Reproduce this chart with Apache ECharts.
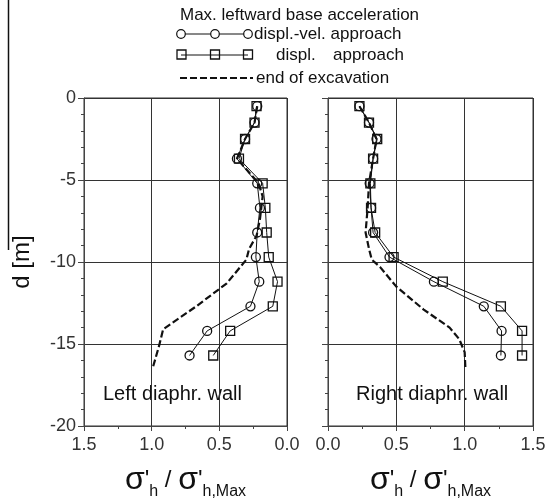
<!DOCTYPE html>
<html>
<head>
<meta charset="utf-8">
<script src="https://cdn.jsdelivr.net/npm/echarts@6/dist/echarts.min.js"></script>
<style>
  html, body { margin: 0; padding: 0; background: #fff; }
  #chart { width: 549px; height: 500px; }
</style>
</head>
<body>
<div id="chart"></div>
<script>
// depths of the computed points [m]
const depths = [-0.5, -1.5, -2.5, -3.7, -5.2, -6.7, -8.2, -9.7, -11.2, -12.7, -14.2, -15.7];

// left diaphragm wall
const leftDispVel = [0.22, 0.24, 0.31, 0.37, 0.22, 0.20, 0.22, 0.23, 0.205, 0.27, 0.59, 0.72];
const leftDisp    = [0.225, 0.24, 0.31, 0.355, 0.18, 0.16, 0.15, 0.135, 0.07, 0.105, 0.42, 0.545];
const leftExcDepth = [-0.5, -1.5, -2.5, -3.7, -5.2, -6.0, -7.4, -8.4, -9.2, -9.85, -11.3, -12.7, -14.1, -15.1, -16.4];
const leftExc      = [0.22, 0.24, 0.31, 0.37, 0.21, 0.18, 0.20, 0.225, 0.28, 0.30, 0.445, 0.67, 0.915, 0.945, 0.99];

// right diaphragm wall
const rightDispVel = [0.23, 0.30, 0.355, 0.33, 0.305, 0.315, 0.33, 0.45, 0.775, 1.14, 1.27, 1.265];
const rightDisp    = [0.23, 0.30, 0.36, 0.33, 0.31, 0.315, 0.345, 0.48, 0.84, 1.265, 1.42, 1.42];
const rightExcDepth = [-0.5, -1.5, -2.5, -3.7, -5.2, -6.7, -8.2, -9.2, -9.85, -10.3, -10.9, -11.5, -12.9, -14.0, -14.7, -15.5, -16.4];
const rightExc      = [0.23, 0.30, 0.355, 0.33, 0.30, 0.29, 0.275, 0.30, 0.32, 0.38, 0.44, 0.50, 0.70, 0.89, 0.96, 1.0, 1.005];

const xTicks = [0, 0.5, 1.0, 1.5];

const FONT = 'Liberation Sans, Arial, sans-serif';
const AX = '#444';

const pairs = (xs, ys) => xs.map((v, i) => [v, ys[i]]);

const chart = echarts.init(document.getElementById('chart'));

function xAxisFor(idx, inverse) {
    return {
        gridIndex: idx,
        type: 'value',
        min: xTicks[0],
        max: xTicks[xTicks.length - 1],
        interval: 0.5,
        inverse: inverse,
        axisLine: { show: true, onZero: false, lineStyle: { color: AX, width: 1 } },
        axisTick: { show: true, length: 5, lineStyle: { color: AX } },
        minorTick: { show: true, splitNumber: 2, length: 3, lineStyle: { color: AX } },
        splitLine: { show: true, lineStyle: { color: '#333', width: 1 } },
        axisLabel: {
            color: '#333', fontSize: 18, fontFamily: FONT, margin: 10,
            formatter: v => v.toFixed(1)
        },
        name: '{s|σ}{p|\'}{sub|h}{p| / }{s|σ}{p|\'}{sub|h,Max}',
        nameLocation: 'middle',
        nameGap: 38,
        nameTextStyle: {
            rich: {
                s: { fontSize: 32, fontFamily: FONT, color: '#111', verticalAlign: 'bottom', padding: [0, 0, 4, 0] },
                p: { fontSize: 24, fontFamily: FONT, color: '#111', verticalAlign: 'bottom', padding: [0, 0, 8, 0] },
                sub: { fontSize: 16, fontFamily: FONT, color: '#111', verticalAlign: 'bottom', padding: [0, 0, 0, 0] }
            }
        }
    };
}

function yAxisFor(idx, showLabels) {
    return {
        gridIndex: idx,
        type: 'value',
        min: -20,
        max: 0,
        interval: 5,
        axisLine: { show: true, onZero: false, lineStyle: { color: AX, width: 1 } },
        axisTick: { show: true, length: 6, lineStyle: { color: AX } },
        minorTick: { show: true, splitNumber: 5, length: 3, lineStyle: { color: AX } },
        splitLine: { show: true, lineStyle: { color: '#333', width: 1 } },
        axisLabel: { show: showLabels, color: '#333', fontSize: 18, fontFamily: FONT, margin: 8 },
        name: showLabels ? 'd [m]' : '',
        nameLocation: 'middle',
        nameRotate: 90,
        nameGap: 50,
        nameTextStyle: { fontSize: 24, fontFamily: FONT, color: '#111' }
    };
}

function dashed(idx, xs, ys) {
    return {
        type: 'line', xAxisIndex: idx, yAxisIndex: idx,
        data: pairs(xs, ys),
        showSymbol: false, symbol: 'none',
        lineStyle: { color: '#111', width: 2.2, type: [7, 3] },
        z: 2, animation: false
    };
}

function marked(idx, xs, ys, symbol, size) {
    return {
        type: 'line', xAxisIndex: idx, yAxisIndex: idx,
        data: pairs(xs, ys),
        symbol: symbol, symbolSize: size, showAllSymbol: true,
        lineStyle: { color: '#111', width: 1 },
        itemStyle: { color: 'rgba(255,255,255,0)', borderColor: '#111', borderWidth: 1.3 },
        z: 3, animation: false
    };
}

// legend drawn as a small block of decoration
const legendX0 = 181, legendX1 = 248;
const legendGraphic = [
    { type: 'text', left: 180, top: 7, style: { text: 'Max. leftward base acceleration', fontSize: 17, fontFamily: FONT, fill: '#111' } },
    { type: 'line', shape: { x1: legendX0, y1: 34, x2: legendX1, y2: 34 }, style: { stroke: '#111', lineWidth: 1 } },
    { type: 'circle', shape: { cx: 181, cy: 34, r: 4.3 }, style: { fill: '#fff', stroke: '#111', lineWidth: 1.2 } },
    { type: 'circle', shape: { cx: 215, cy: 34, r: 4.3 }, style: { fill: '#fff', stroke: '#111', lineWidth: 1.2 } },
    { type: 'circle', shape: { cx: 248, cy: 34, r: 4.3 }, style: { fill: '#fff', stroke: '#111', lineWidth: 1.2 } },
    { type: 'text', left: 254, top: 26, style: { text: 'displ.-vel. approach', fontSize: 17, fontFamily: FONT, fill: '#111' } },
    { type: 'line', shape: { x1: legendX0, y1: 55, x2: legendX1, y2: 55 }, style: { stroke: '#111', lineWidth: 1 } },
    { type: 'rect', shape: { x: 177, y: 50, width: 9, height: 9 }, style: { fill: 'none', stroke: '#111', lineWidth: 1.3 } },
    { type: 'rect', shape: { x: 210.5, y: 50, width: 9, height: 9 }, style: { fill: 'none', stroke: '#111', lineWidth: 1.3 } },
    { type: 'rect', shape: { x: 243.5, y: 50, width: 9, height: 9 }, style: { fill: 'none', stroke: '#111', lineWidth: 1.3 } },
    { type: 'text', left: 276, top: 47, style: { text: 'displ.', fontSize: 17, fontFamily: FONT, fill: '#111' } },
    { type: 'text', left: 333, top: 47, style: { text: 'approach', fontSize: 17, fontFamily: FONT, fill: '#111' } },
    { type: 'line', shape: { x1: 180, y1: 78, x2: 253, y2: 78 }, style: { stroke: '#111', lineWidth: 2.2, lineDash: [7, 3] } },
    { type: 'text', left: 256, top: 70, style: { text: 'end of excavation', fontSize: 17, fontFamily: FONT, fill: '#111' } },
    // wall captions
    { type: 'text', left: 103, top: 384, style: { text: 'Left diaphr. wall', fontSize: 20, fontFamily: FONT, fill: '#111' } },
    { type: 'text', left: 356, top: 384, style: { text: 'Right diaphr. wall', fontSize: 20, fontFamily: FONT, fill: '#111' } },
    // stray vertical rule at the left edge of the scan
    { type: 'line', shape: { x1: 8.5, y1: 0, x2: 8.5, y2: 250 }, style: { stroke: '#111', lineWidth: 1.5 } }
];

const option = {
    backgroundColor: '#fff',
    animation: false,
    grid: [
        { left: 84, right: 262, top: 98, bottom: 74, containLabel: false, outerBoundsMode: 'none',
          show: true, borderColor: '#333', borderWidth: 1, backgroundColor: 'transparent' },
        { left: 328, right: 16, top: 98, bottom: 74, containLabel: false, outerBoundsMode: 'none',
          show: true, borderColor: '#333', borderWidth: 1, backgroundColor: 'transparent' }
    ],
    xAxis: [xAxisFor(0, true), xAxisFor(1, false)],
    yAxis: [yAxisFor(0, true), yAxisFor(1, false)],
    series: [
        dashed(0, leftExc, leftExcDepth),
        marked(0, leftDispVel, depths, 'circle', 9),
        marked(0, leftDisp, depths, 'rect', 9),
        dashed(1, rightExc, rightExcDepth),
        marked(1, rightDispVel, depths, 'circle', 9),
        marked(1, rightDisp, depths, 'rect', 9)
    ],
    graphic: legendGraphic
};

chart.setOption(option);
</script>
</body>
</html>
